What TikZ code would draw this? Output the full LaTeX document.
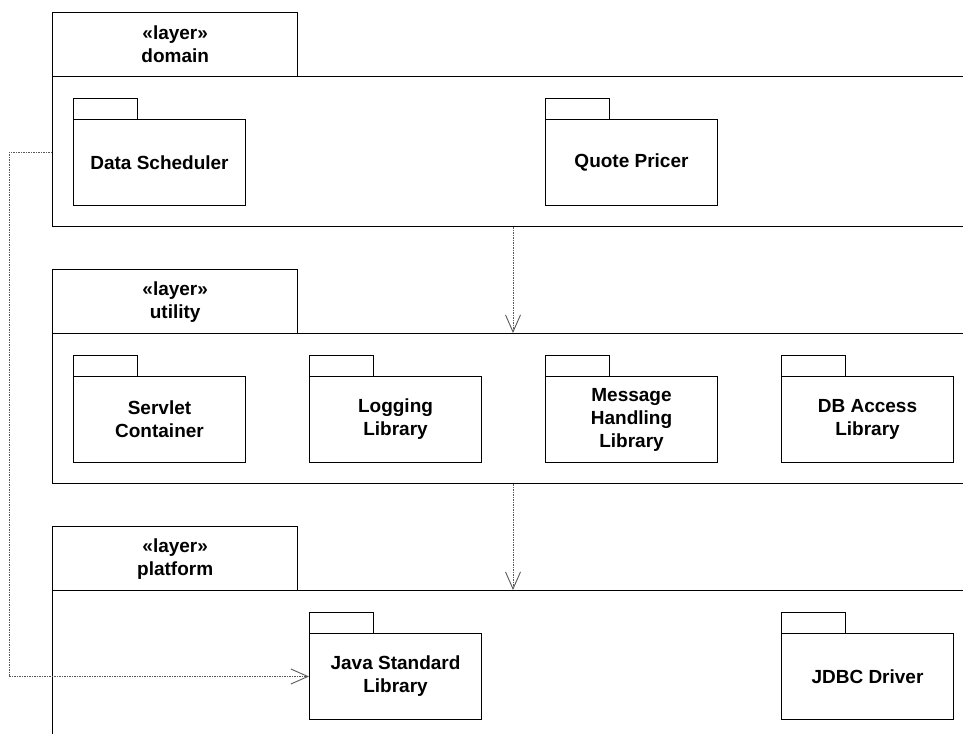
\documentclass[tikz,border=0pt]{standalone}
\usepackage{fontspec}
\setmainfont{Liberation Sans}
\usetikzlibrary{arrows.meta}

\begin{document}
\begin{tikzpicture}[x=1pt, y=-1pt,
  every node/.style={font=\fontsize{19}{23}\selectfont\bfseries, align=center, inner sep=0pt, anchor=north west},
  layertab/.style={draw, line width=1.4pt, minimum width=245pt, minimum height=64pt},
  layerbody/.style={draw, line width=1.4pt, minimum width=1000pt, minimum height=150pt},
  pkgtab/.style={draw, line width=1pt, minimum width=64pt, minimum height=21pt},
  pkgbody/.style={draw, line width=1pt, minimum width=172pt, minimum height=86pt},
  dep/.style={gray!70!black, line width=0.9pt, dash pattern=on 1.5pt off 1pt, -{Straight Barb[length=17pt, width=15pt, line width=0.9pt]}}]
\clip (0,0) rectangle (963,733);
% Draw layers
\node[layertab] (domTab) at (52,12) {\guillemotleft layer\guillemotright\\domain};
\node[layerbody] (domBody) at (52,76) {};
\node[layertab] (utilTab) at (52,269) {\guillemotleft layer\guillemotright\\utility};
\node[layerbody] (utilBody) at (52,333) {};
\node[layertab] (platTab) at (52,526) {\guillemotleft layer\guillemotright\\platform};
\node[layerbody, minimum height=200pt] (platBody) at (52,590) {};
% Draw packages
\foreach \name/\x/\y/\txt in {sched/73/98/Data Scheduler, pricer/545/98/Quote Pricer,
    servlet/73/355/{Servlet\\Container}, logging/309/355/{Logging\\Library},
    msg/545/355/{Message\\Handling\\Library}, dbacc/781/355/{DB Access\\Library},
    javalib/309/612/{Java Standard\\Library}, jdbc/781/612/JDBC Driver}
{
  \node[pkgtab] (\name Tab) at (\x,\y) {};
  \node[pkgbody] (\name) at (\x,\y+21) {};
  \node[anchor=center] at (\name.center) {\txt};
}
% Draw dependencies
\draw[dep] ([xshift=461pt]domBody.south west) -- ([xshift=461pt]utilBody.north west);
\draw[dep] ([xshift=461pt]utilBody.south west) -- ([xshift=461pt]platBody.north west);
\coordinate (from) at (52,152);
\coordinate (bend) at (9,152);
\draw[dep] (from) -- (bend) |- (javalib.west);
\end{tikzpicture}
\end{document}
